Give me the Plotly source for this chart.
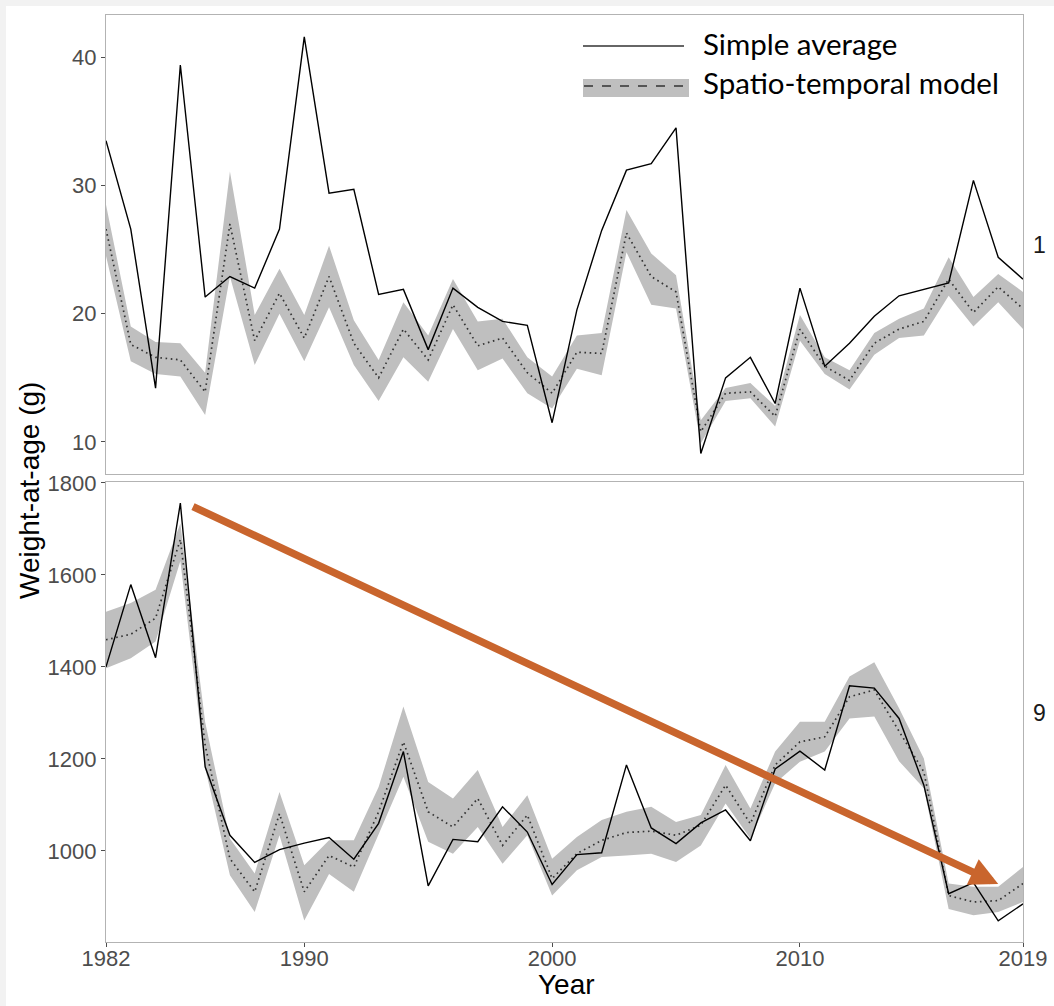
import plotly.graph_objects as go

# ---- data -------------------------------------------------------------
years = list(range(1982, 2020))

# Age 1 (top panel)
age1_simple = [33.5, 26.6, 14.2, 39.4, 21.3, 22.9, 22.0, 26.6, 41.6, 29.4,
               29.7, 21.5, 21.9, 17.2, 22.0, 20.5, 19.4, 19.1, 11.5, 20.3,
               26.5, 31.2, 31.7, 34.5, 9.1, 15.0, 16.6, 13.0, 22.0, 15.9,
               17.7, 19.8, 21.4, 21.9, 22.4, 30.4, 24.4, 22.7]
age1_model = [26.6, 17.6, 16.6, 16.4, 13.9, 27.0, 17.9, 21.6, 18.1, 22.9,
              17.7, 15.0, 18.8, 16.4, 20.7, 17.5, 18.1, 15.4, 13.8, 17.0,
              16.9, 26.3, 22.9, 21.7, 10.8, 13.8, 13.9, 12.0, 18.8, 15.9,
              14.8, 17.7, 18.8, 19.4, 22.7, 20.1, 22.1, 20.4]
age1_lo = [24.5, 16.3, 15.3, 15.1, 12.1, 22.9, 16.0, 20.0, 16.3, 20.5,
           16.0, 13.2, 16.6, 14.7, 18.8, 15.6, 16.5, 13.8, 12.6, 15.7,
           15.2, 24.8, 20.7, 20.4, 9.9, 13.2, 13.4, 11.2, 17.9, 15.3,
           14.1, 16.8, 18.1, 18.3, 21.4, 19.0, 20.9, 18.8]
age1_hi = [28.5, 19.0, 17.8, 17.7, 15.4, 31.1, 19.9, 23.5, 19.9, 25.3,
           19.5, 16.4, 20.9, 18.3, 22.7, 19.4, 19.6, 16.6, 15.1, 18.3,
           18.5, 28.1, 24.7, 23.0, 11.7, 14.2, 14.6, 12.8, 19.9, 16.6,
           15.6, 18.5, 19.6, 20.4, 24.4, 21.3, 23.1, 21.7]

# Age 9 (bottom panel)
age9_simple = [1400, 1579, 1420, 1756, 1183, 1034, 975, 1003, 1017, 1029,
               982, 1060, 1216, 924, 1025, 1020, 1096, 1041, 927, 992,
               996, 1187, 1050, 1016, 1061, 1089, 1022, 1178, 1217, 1176,
               1359, 1354, 1288, 1143, 907, 931, 848, 885]
age9_model = [1459, 1471, 1506, 1677, 1230, 983, 911, 1081, 911, 990,
              965, 1085, 1237, 1085, 1052, 1114, 1012, 1078, 940, 994,
              1023, 1040, 1043, 1034, 1056, 1143, 1059, 1187, 1237, 1248,
              1335, 1350, 1260, 1172, 903, 889, 892, 929]
age9_lo = [1397, 1419, 1455, 1630, 1180, 947, 867, 1034, 849, 950,
           911, 1034, 1161, 1020, 994, 1052, 972, 1034, 903, 958,
           987, 990, 994, 976, 1012, 1103, 1027, 1147, 1194, 1216,
           1288, 1292, 1195, 1136, 874, 860, 867, 889]
age9_hi = [1520, 1539, 1568, 1712, 1280, 1027, 951, 1128, 969, 1023,
           1023, 1139, 1314, 1150, 1114, 1176, 1052, 1121, 983, 1030,
           1067, 1085, 1096, 1063, 1078, 1187, 1092, 1216, 1281, 1281,
           1379, 1410, 1310, 1201, 929, 922, 922, 965]

x_ticks = [1982, 1990, 2000, 2010, 2019]
top_ticks = [10, 20, 30, 40]
bottom_ticks = [1000, 1200, 1400, 1600, 1800]
panel_labels = ["1", "9"]
legend_labels = ["Simple average", "Spatio-temporal model"]

# trend arrow on the age-9 panel (tail -> head, in data units)
trend_tail = (1985.45, 1750)
trend_head = (2018.0, 928)

# ---- styling ----------------------------------------------------------
BAND = "#bfbfbf"
ORANGE = "#c9652d"
FRAME = "#b3b3b3"
SANS = "Liberation Sans, Arial, sans-serif"
TICK_FONT = dict(family=SANS, size=22, color="#4d4d4d")

fig = go.Figure()


def add_panel(xa, ya, lo, hi, model, simple):
    fig.add_trace(go.Scatter(x=years, y=hi, xaxis=xa, yaxis=ya, mode="lines",
                             line=dict(width=0, color=BAND), hoverinfo="skip",
                             showlegend=False))
    fig.add_trace(go.Scatter(x=years, y=lo, xaxis=xa, yaxis=ya, mode="lines",
                             line=dict(width=0, color=BAND), fill="tonexty",
                             fillcolor=BAND, hoverinfo="skip", showlegend=False))
    fig.add_trace(go.Scatter(x=years, y=model, xaxis=xa, yaxis=ya, mode="lines",
                             line=dict(width=1.7, color="#333333", dash="1.6px,3.6px"),
                             showlegend=False))
    fig.add_trace(go.Scatter(x=years, y=simple, xaxis=xa, yaxis=ya, mode="lines",
                             line=dict(width=1.4, color="black"),
                             showlegend=False))


add_panel("x", "y", age1_lo, age1_hi, age1_model, age1_simple)
add_panel("x2", "y2", age9_lo, age9_hi, age9_model, age9_simple)

axis_common = dict(showgrid=False, zeroline=False, showline=True, mirror=True,
                   linecolor=FRAME, linewidth=1.2, ticks="outside", ticklen=4,
                   tickcolor="#4d4d4d", tickwidth=1, tickfont=TICK_FONT,
                   automargin=False)

W, H = 1054, 1006
ML, MR, MT, MB = 106, 31, 15, 64
plot_w = W - ML - MR
plot_h = H - MT - MB


def px(xp):
    return (xp - ML) / plot_w


def py(yp):
    return (H - MB - yp) / plot_h


fig.update_layout(
    width=W, height=H,
    margin=dict(l=ML, r=MR, t=MT, b=MB, pad=0, autoexpand=False),
    paper_bgcolor="#f2f2f2",
    plot_bgcolor="white",
    showlegend=False,
    xaxis=dict(axis_common, range=[1982, 2019], domain=[0, 1], anchor="y",
               matches="x2", showticklabels=False, ticks=""),
    yaxis=dict(axis_common, range=[7.5, 43.3], domain=[py(474), 1], anchor="x",
               tickvals=top_ticks),
    xaxis2=dict(axis_common, range=[1982, 2019], domain=[0, 1], anchor="y2",
                tickvals=x_ticks, ticklabelstandoff=-8),
    yaxis2=dict(axis_common, range=[802, 1802], domain=[0, py(482)], anchor="x2",
                tickvals=bottom_ticks),
)

# white page area inside a thin grey surround
fig.add_shape(type="rect", xref="paper", yref="paper", layer="below",
              x0=px(6), x1=px(W + 5), y0=py(H + 5), y1=py(6),
              fillcolor="white", line=dict(width=0))

# axis titles
fig.add_annotation(text="Year", xref="paper", yref="paper",
                   x=px(566), y=py(985), showarrow=False,
                   xanchor="center", yanchor="middle",
                   font=dict(family=SANS, size=28, color="black"))
fig.add_annotation(text="Weight-at-age (g)", xref="paper", yref="paper",
                   x=px(29), y=py(491), textangle=-90, showarrow=False,
                   xanchor="center", yanchor="middle",
                   font=dict(family=SANS, size=28, color="black"))

# facet labels on the right
for lab, ypix in zip(panel_labels, [245, 713]):
    fig.add_annotation(text=lab, xref="paper", yref="paper",
                       x=px(1039), y=py(ypix), showarrow=False,
                       xanchor="center", yanchor="middle",
                       font=dict(family=SANS, size=23, color="#1a1a1a"))

# legend drawn in the top panel
fig.add_shape(type="line", xref="paper", yref="paper",
              x0=px(583), x1=px(684), y0=py(46), y1=py(46),
              line=dict(color="#333333", width=1.6))
fig.add_shape(type="rect", xref="paper", yref="paper",
              x0=px(583), x1=px(689), y0=py(97), y1=py(79),
              fillcolor=BAND, line=dict(width=0))
fig.add_shape(type="line", xref="paper", yref="paper",
              x0=px(584), x1=px(686), y0=py(86), y1=py(86),
              line=dict(color="#333333", width=1.6, dash="dash"))
for lab, ypix in zip(legend_labels, [43, 83]):
    fig.add_annotation(text=lab, xref="paper", yref="paper",
                       x=px(701), y=py(ypix), showarrow=False,
                       xanchor="left", yanchor="middle",
                       font=dict(family="Lato, sans-serif", size=29.5, color="black"))

# trend arrow
fig.add_annotation(x=trend_head[0], y=trend_head[1], xref="x2", yref="y2",
                   ax=trend_tail[0], ay=trend_tail[1], axref="x2", ayref="y2",
                   text="", showarrow=True, arrowhead=2, arrowsize=0.75,
                   arrowwidth=7.5, arrowcolor=ORANGE, standoff=0)

fig.write_html("out.html")
